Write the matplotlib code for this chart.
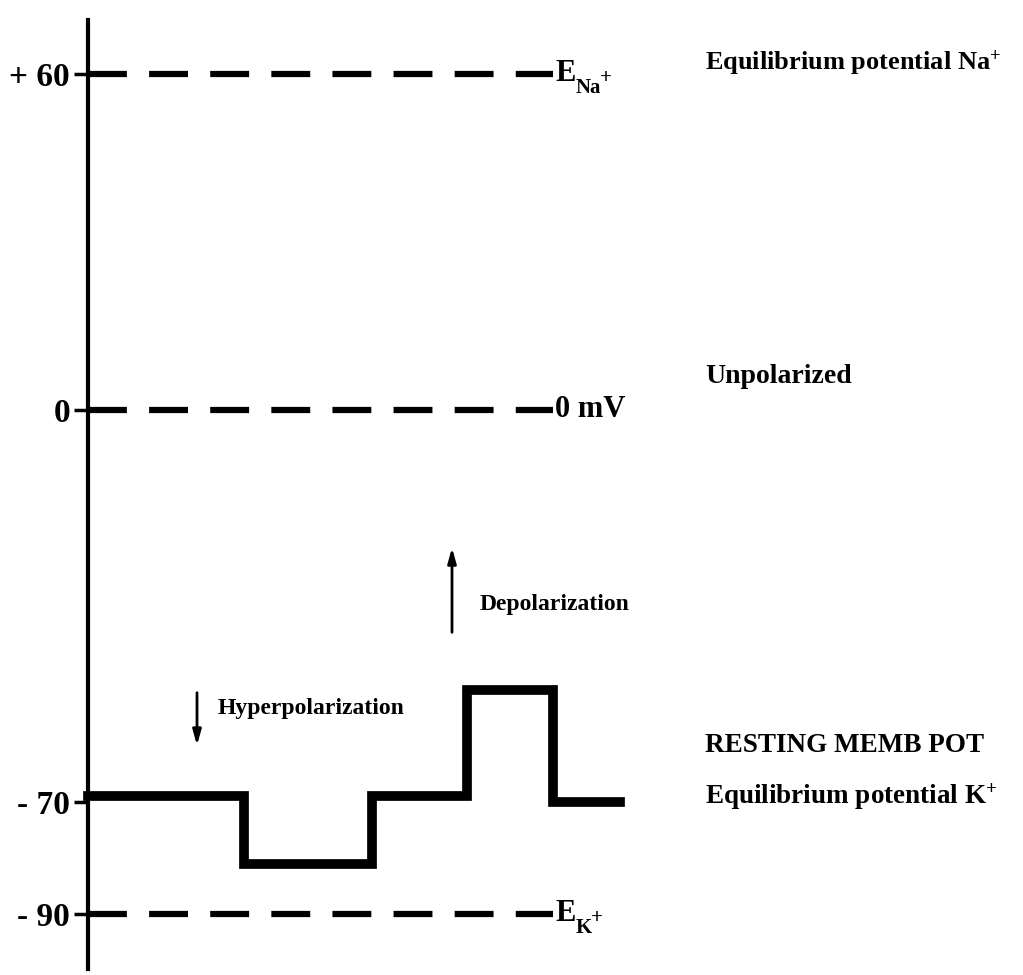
import matplotlib
matplotlib.use("Agg")
import matplotlib.pyplot as plt

plt.rcParams['lines.scale_dashes'] = False
plt.rcParams['mathtext.fontset'] = 'custom'
plt.rcParams['mathtext.rm'] = 'Liberation Serif:bold'
plt.rcParams['mathtext.it'] = 'Liberation Serif:bold'
plt.rcParams['mathtext.bf'] = 'Liberation Serif:bold'

# ---- data ----
trace_t = [0, 15.6, 15.6, 28.4, 28.4, 37.9, 37.9, 46.5, 46.5, 53.2]
trace_mv = [-69, -69, -81, -81, -69, -69, -50, -50, -70, -70]
ref_levels = [60, 0, -90]
ref_main = ['E', '0 mV', 'E']
ref_sub = ['Na', '', 'K']
ref_sup = ['+', '', '+']
tick_values = [60, 0, -70, -90]
tick_labels = ['+ 60', '0', '- 70', '- 90']
right_notes = ['Equilibrium potential Na$^{+}$', 'Unpolarized', 'RESTING MEMB POT', 'Equilibrium potential K$^{+}$']
right_note_mv = [62, 6, -60, -69]

FONT = 'Liberation Serif'

fig = plt.figure(figsize=(10.23, 9.75), dpi=100)
ax = fig.add_axes([0, 0, 1, 1])
ax.set_xlim(-8.8, 93.5)
ax.set_ylim(-100.9, 73.2)

for s in ['top', 'right', 'bottom']:
    ax.spines[s].set_visible(False)
ax.spines['left'].set_position(('data', 0))
ax.spines['left'].set_linewidth(3)
ax.spines['left'].set_bounds(-99.8, 69.6)
ax.set_xticks([])
ax.set_yticks(tick_values)
ax.set_yticklabels(tick_labels, fontfamily=FONT, fontweight='bold', fontsize=24)
ax.tick_params(axis='y', length=10, width=2.5, direction='out', pad=3)

txt = dict(fontfamily=FONT, fontweight='bold')

# reference dashed lines with labels
for lvl, main, sub, sup in zip(ref_levels, ref_main, ref_sub, ref_sup):
    ax.plot([0, 46.5], [lvl, lvl], color='black', lw=4.5, dashes=(28, 16),
            solid_capstyle='butt', dash_capstyle='butt')
    t = ax.text(46.7, lvl, main, fontsize=22, va='center', ha='left', **txt)
    if sub:
        ax.annotate(sub, xy=(46.7, lvl), xytext=(14.5, -10), textcoords='offset points',
                    fontsize=15, va='center', ha='left', **txt)
        sub_w = 18 if sub == 'Na' else 11.5
        ax.annotate(sup, xy=(46.7, lvl), xytext=(14.5 + sub_w, -3), textcoords='offset points',
                    fontsize=15, va='center', ha='left', **txt)

# membrane trace
ax.plot(trace_t, trace_mv, color='black', lw=7, solid_joinstyle='miter')

# arrows and annotations
ax.annotate('', xy=(10.9, -60.4), xytext=(10.9, -50),
            arrowprops=dict(arrowstyle='-|>,head_length=0.9,head_width=0.25', color='black', lw=2))
ax.text(13.0, -53.4, 'Hyperpolarization', fontsize=17, va='center', ha='left', **txt)
ax.annotate('', xy=(36.4, -24.1), xytext=(36.4, -40.2),
            arrowprops=dict(arrowstyle='-|>,head_length=0.9,head_width=0.25', color='black', lw=2))
ax.text(39.2, -34.8, 'Depolarization', fontsize=17, va='center', ha='left', **txt)

note_sizes = [19, 20, 19.5, 19.5]
for note, mv, fs in zip(right_notes, right_note_mv, note_sizes):
    ax.text(61.7, mv, note, fontsize=fs, va='center', ha='left', **txt)

fig.savefig('out.png', dpi=100)
